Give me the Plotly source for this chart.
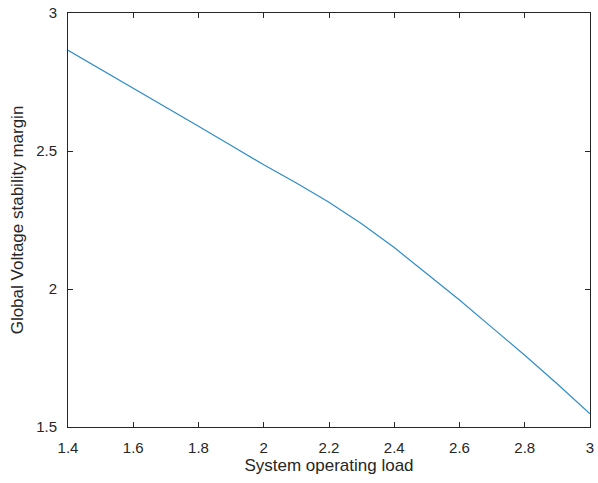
import plotly.graph_objects as go

load = [1.4, 1.5, 1.6, 1.7, 1.8, 1.9, 2.0, 2.1, 2.2, 2.3, 2.4, 2.5, 2.6, 2.7, 2.8, 2.9, 3.0]
margin = [2.865, 2.797, 2.727, 2.658, 2.590, 2.520, 2.450, 2.384, 2.314, 2.236, 2.150,
          2.055, 1.960, 1.860, 1.760, 1.656, 1.548]

x_ticks = [1.4, 1.6, 1.8, 2.0, 2.2, 2.4, 2.6, 2.8, 3.0]
x_tick_text = ["1.4", "1.6", "1.8", "2", "2.2", "2.4", "2.6", "2.8", "3"]
y_ticks = [1.5, 2.0, 2.5, 3.0]
y_tick_text = ["1.5", "2", "2.5", "3"]

axis_color = "#262626"
font_family = "Liberation Sans, Arial, sans-serif"

fig = go.Figure()
fig.add_trace(go.Scatter(x=load, y=margin, mode="lines",
                         line=dict(color="#2f8cc6", width=1.2),
                         showlegend=False))

fig.update_layout(
    width=598, height=483,
    margin=dict(l=68, r=4, t=11, b=56),
    paper_bgcolor="white", plot_bgcolor="white",
    font=dict(family=font_family, size=15, color=axis_color),
)
fig.update_xaxes(
    range=[1.4, 3.0], tickvals=x_ticks, ticktext=x_tick_text,
    ticks="inside", ticklen=5, tickcolor=axis_color, tickwidth=1,
    showline=True, linecolor=axis_color, linewidth=1, mirror="ticks",
    showgrid=False, zeroline=False, ticklabeloverflow="allow",
    tickfont=dict(size=15, color=axis_color),
    ticklabelstandoff=7,
    title=dict(text="System operating load", font=dict(size=17, color=axis_color), standoff=4),
)
fig.update_yaxes(
    range=[1.5, 3.0], tickvals=y_ticks, ticktext=y_tick_text,
    ticks="inside", ticklen=5, tickcolor=axis_color, tickwidth=1,
    showline=True, linecolor=axis_color, linewidth=1, mirror="ticks",
    showgrid=False, zeroline=False,
    tickfont=dict(size=15, color=axis_color),
    ticklabelstandoff=7,
    title=dict(text="Global Voltage stability margin", font=dict(size=17, color=axis_color), standoff=8),
)

fig.write_html("out.html", config={"displayModeBar": False})

with open("out.html", "r", encoding="utf-8") as f:
    html = f.read()
html = html.replace("<head>", "<head><style>html,body{margin:0;padding:0;overflow:hidden;}</style>", 1)
with open("out.html", "w", encoding="utf-8") as f:
    f.write(html)
